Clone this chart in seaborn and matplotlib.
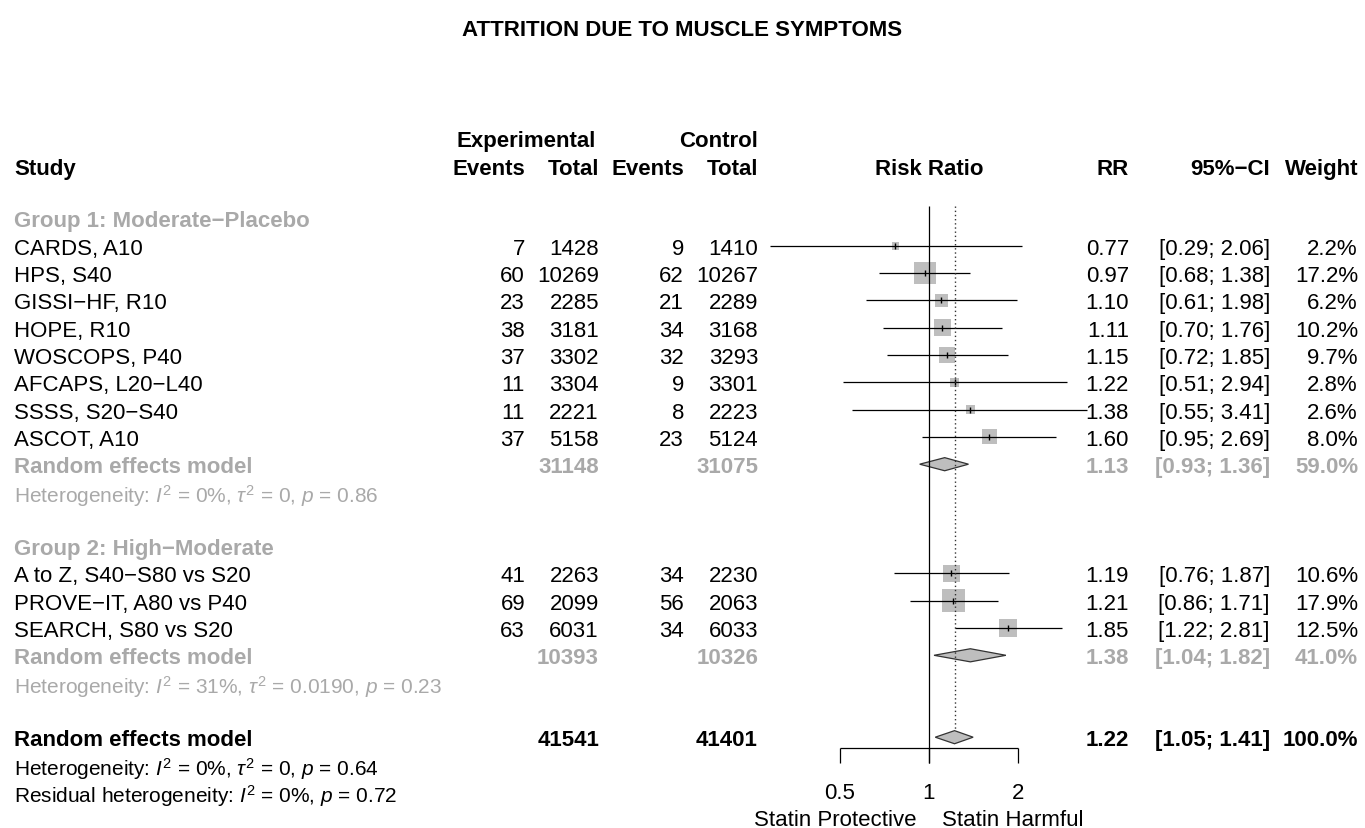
import matplotlib

matplotlib.use("Agg")

import matplotlib.pyplot as plt
import numpy as np
import seaborn as sns

sns.set_theme(style="white")
plt.rcParams["font.family"] = ["Liberation Sans", "DejaVu Sans"]
plt.rcParams["text.color"] = "black"
plt.rcParams["mathtext.fontset"] = "custom"
plt.rcParams["mathtext.rm"] = "Liberation Sans"
plt.rcParams["mathtext.it"] = "Liberation Sans:italic"
plt.rcParams["mathtext.bf"] = "Liberation Sans:bold"

# ---- data -------------------------------------------------------------
studies = [
    "CARDS, A10", "HPS, S40", "GISSI\u2212HF, R10", "HOPE, R10", "WOSCOPS, P40",
    "AFCAPS, L20\u2212L40", "SSSS, S20\u2212S40", "ASCOT, A10",
    "A to Z, S40\u2212S80 vs S20", "PROVE\u2212IT, A80 vs P40", "SEARCH, S80 vs S20",
]
study_rows = [1, 2, 3, 4, 5, 6, 7, 8, 13, 14, 15]
ev_e = [7, 60, 23, 38, 37, 11, 11, 37, 41, 69, 63]
n_e = [1428, 10269, 2285, 3181, 3302, 3304, 2221, 5158, 2263, 2099, 6031]
ev_c = [9, 62, 21, 34, 32, 9, 8, 23, 34, 56, 34]
n_c = [1410, 10267, 2289, 3168, 3293, 3301, 2223, 5124, 2230, 2063, 6033]
rr = [0.77, 0.97, 1.10, 1.11, 1.15, 1.22, 1.38, 1.60, 1.19, 1.21, 1.85]
ci_lo = [0.29, 0.68, 0.61, 0.70, 0.72, 0.51, 0.55, 0.95, 0.76, 0.86, 1.22]
ci_hi = [2.06, 1.38, 1.98, 1.76, 1.85, 2.94, 3.41, 2.69, 1.87, 1.71, 2.81]
weight = [2.2, 17.2, 6.2, 10.2, 9.7, 2.8, 2.6, 8.0, 10.6, 17.9, 12.5]

group_labels = ["Group 1: Moderate\u2212Placebo", "Group 2: High\u2212Moderate"]
group_rows = [0, 12]

sum_rows = [9, 16, 19]
sum_ne = [31148, 10393, 41541]
sum_nc = [31075, 10326, 41401]
sum_rr = [1.13, 1.38, 1.22]
sum_lo = [0.93, 1.04, 1.05]
sum_hi = [1.36, 1.82, 1.41]
sum_w = [59.0, 41.0, 100.0]

het_rows = [10, 17, 20, 21]
het_texts = [
    "Heterogeneity: $I^2$ = 0%, $\\tau^2$ = 0, $p$ = 0.86",
    "Heterogeneity: $I^2$ = 31%, $\\tau^2$ = 0.0190, $p$ = 0.23",
    "Heterogeneity: $I^2$ = 0%, $\\tau^2$ = 0, $p$ = 0.64",
    "Residual heterogeneity: $I^2$ = 0%, $p$ = 0.72",
]

x_ticks = [0.5, 1, 2]

# ---- layout -----------------------------------------------------------
GRAY = "#A9A9A9"
BOX = "#BEBEBE"
FS = 16
FS_HET = 15
VA = "center_baseline"
ROW0_PX, ROW_PX, H_PX, W_PX = 219.5, 27.3, 829, 1365
y_top = -ROW0_PX / ROW_PX
y_bot = (H_PX - ROW0_PX) / ROW_PX
X1_PX, OCT_PX = 929, 89  # pixel of RR=1, pixels per doubling

fig = plt.figure(figsize=(13.65, 8.29), dpi=100)
ax_t = fig.add_axes([0, 0, 1, 1])
ax_t.set_xlim(0, W_PX)
ax_t.set_ylim(y_bot, y_top)
ax_t.set_axis_off()

ax = fig.add_axes([0, 0, 1, 1])
ax.patch.set_alpha(0)
ax.set_xscale("log", base=2)
ax.set_xlim(2 ** (-X1_PX / OCT_PX), 2 ** ((W_PX - X1_PX) / OCT_PX))
ax.set_ylim(y_bot, y_top)
ax.set_axis_off()

# title and headers
ax_t.text(W_PX / 2, (28 - ROW0_PX) / ROW_PX, "ATTRITION DUE TO MUSCLE SYMPTOMS",
          ha="center", va=VA, fontsize=FS, fontweight="bold")
h1 = (139 - ROW0_PX) / ROW_PX
h2 = (167 - ROW0_PX) / ROW_PX
ax_t.text(526, h1, "Experimental", ha="center", va=VA, fontsize=FS, fontweight="bold")
ax_t.text(758, h1, "Control", ha="right", va=VA, fontsize=FS, fontweight="bold")
for x, s, ha in [(14, "Study", "left"), (525, "Events", "right"), (599, "Total", "right"),
                 (684, "Events", "right"), (758, "Total", "right"),
                 (929, "Risk Ratio", "center"), (1129, "RR", "right"),
                 (1270, "95%\u2212CI", "right"), (1358, "Weight", "right")]:
    ax_t.text(x, h2, s, ha=ha, va=VA, fontsize=FS, fontweight="bold")

# group labels
for r, lab in zip(group_rows, group_labels):
    ax_t.text(14, r, lab, ha="left", va=VA, fontsize=FS, fontweight="bold", color=GRAY)

# study rows
for i, r in enumerate(study_rows):
    vals = [(14, studies[i], "left"), (525, str(ev_e[i]), "right"), (599, str(n_e[i]), "right"),
            (684, str(ev_c[i]), "right"), (758, str(n_c[i]), "right"),
            (1129, f"{rr[i]:.2f}", "right"), (1270, f"[{ci_lo[i]:.2f}; {ci_hi[i]:.2f}]", "right"),
            (1358, f"{weight[i]:.1f}%", "right")]
    for x, s, ha in vals:
        ax_t.text(x, r, s, ha=ha, va=VA, fontsize=FS)

# summary rows
for k, r in enumerate(sum_rows):
    col = "black" if k == 2 else GRAY
    vals = [(14, "Random effects model", "left"), (599, str(sum_ne[k]), "right"),
            (758, str(sum_nc[k]), "right"), (1129, f"{sum_rr[k]:.2f}", "right"),
            (1270, f"[{sum_lo[k]:.2f}; {sum_hi[k]:.2f}]", "right"),
            (1358, f"{sum_w[k]:.1f}%", "right")]
    for x, s, ha in vals:
        ax_t.text(x, r, s, ha=ha, va=VA, fontsize=FS, fontweight="bold", color=col)

for k, (r, s) in enumerate(zip(het_rows, het_texts)):
    col = GRAY if k < 2 else "black"
    ax_t.text(14, r, s, ha="left", va=VA, fontsize=FS_HET, color=col)

# ---- forest -----------------------------------------------------------
sns.scatterplot(x=rr, y=study_rows, size=weight,
                sizes=(14.6 * min(weight), 14.6 * max(weight)),
                marker="s", color=BOX, linewidth=0, legend=False, ax=ax, zorder=2)
ax.hlines(study_rows, ci_lo, ci_hi, color="black", lw=0.9, zorder=3)
ax.scatter(rr, study_rows, marker="|", s=22, color="black", linewidths=1, zorder=4)

dh = 0.24
for r, c, lo, hi in zip(sum_rows, sum_rr, sum_lo, sum_hi):
    ax.fill([lo, c, hi, c], [r, r - dh, r, r + dh], facecolor=BOX,
            edgecolor="#333333", lw=0.9, zorder=4)

line_top = -0.44
ax.vlines(1, line_top, 19.93, color="black", lw=0.9, zorder=5)
ax.vlines(sum_rr[2], line_top, sum_rows[2] - dh, color="#333333", lw=1.0,
          linestyles=(0, (1, 2)), zorder=5)

# bottom axis bracket
axis_row = (749 - ROW0_PX) / ROW_PX
ax.hlines(axis_row, min(x_ticks), max(x_ticks), color="black", lw=0.9)
ax.vlines(x_ticks, axis_row, 19.93, color="black", lw=0.9)
for t in x_ticks:
    ax.text(t, 20.95, f"{t:g}", ha="center", va=VA, fontsize=FS)
ax.annotate("Statin Protective", xy=(1, 21.93), xytext=(-9, 0), textcoords="offset points",
            ha="right", va=VA, fontsize=FS)
ax.annotate("Statin Harmful", xy=(1, 21.93), xytext=(9, 0), textcoords="offset points",
            ha="left", va=VA, fontsize=FS)

fig.savefig("out.png", dpi=100)
